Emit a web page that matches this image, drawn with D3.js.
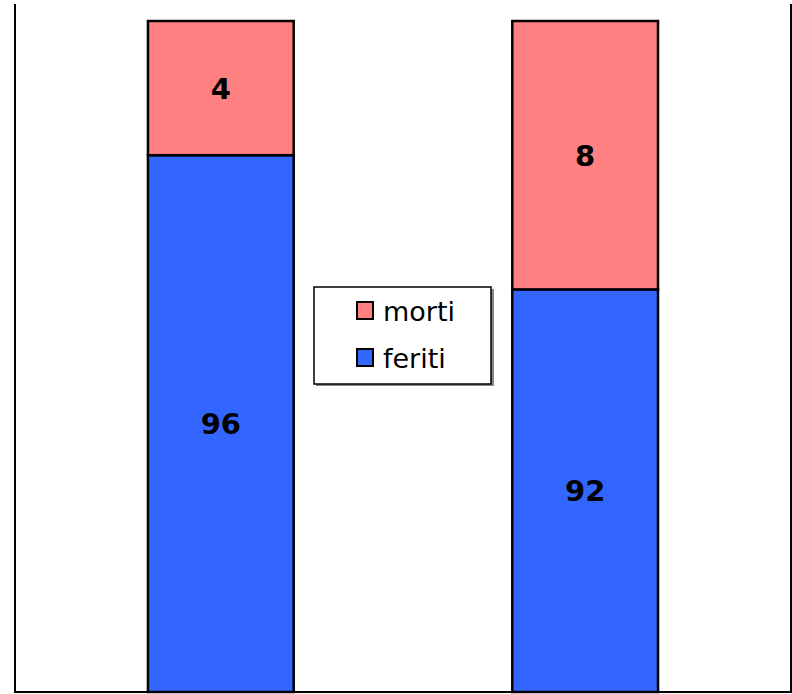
<!DOCTYPE html>
<html>
<head>
<meta charset="utf-8">
<script src="https://cdn.jsdelivr.net/npm/d3@7"></script>
<style>
  body { margin: 0; background: #fff; }
  svg { display: block; font-family: "DejaVu Sans", sans-serif; }
</style>
</head>
<body>
<div id="chart"></div>
<script>
// data
var categories = ["A", "B"];
var feriti = [96, 92];
var morti = [4, 8];
var seriesNames = ["morti", "feriti"];
var seriesColors = ["#ff8080", "#3366ff"];

var width = 792, height = 694;
var plot = {left: 15, right: 791, top: 21, bottom: 692};

var svg = d3.select("#chart")
  .append("svg")
  .attr("width", width)
  .attr("height", height);

// y axis starts at 80, so the lower part of the bars is cut off
var y = d3.scaleLinear().domain([80, 100]).range([plot.bottom, plot.top]);
var x = d3.scaleBand().domain(categories)
  .range([plot.left, plot.right]).paddingInner(0.6).paddingOuter(0.365);

var rows = categories.map(function (c, i) {
  return {cat: c, feriti: feriti[i], morti: morti[i]};
});
var stack = d3.stack().keys(["feriti", "morti"])(rows);

var layers = svg.append("g").selectAll("g")
  .data(stack)
  .join("g")
  .attr("fill", function (d) { return d.key == "morti" ? seriesColors[0] : seriesColors[1]; });

layers.selectAll("rect")
  .data(function (d) { return d; })
  .join("rect")
  .attr("x", function (d) { return x(d.data.cat); })
  .attr("width", x.bandwidth())
  .attr("y", function (d) { return y(d[1]); })
  .attr("height", function (d) { return y(Math.max(d[0], 80)) - y(d[1]); })
  .attr("stroke", "#000")
  .attr("stroke-width", 2.5);

// value labels in the middle of the visible part
layers.selectAll("text")
  .data(function (d) { return d.map(function (v) { v.key = d.key; return v; }); })
  .join("text")
  .attr("x", function (d) { return x(d.data.cat) + x.bandwidth() / 2; })
  .attr("y", function (d) { return (y(d[1]) + y(Math.max(d[0], 80))) / 2; })
  .attr("dy", "0.36em")
  .attr("text-anchor", "middle")
  .attr("fill", "#000")
  .attr("font-weight", "bold")
  .attr("font-size", 29)
  .text(function (d) { return d.data[d.key]; });

// frame (left, right, bottom)
svg.append("path")
  .attr("d", "M" + plot.left + ",4V" + plot.bottom + "H" + plot.right + "V4")
  .attr("fill", "none")
  .attr("stroke", "#000")
  .attr("stroke-width", 2);

// legend
var lg = svg.append("g").attr("transform", "translate(314,287)");
lg.append("rect").attr("x", 2).attr("y", 2).attr("width", 178).attr("height", 97).attr("fill", "#888");
lg.append("rect").attr("width", 177).attr("height", 97)
  .attr("fill", "#fff").attr("stroke", "#000").attr("stroke-width", 1.5);

var items = lg.selectAll("g.item")
  .data(seriesNames)
  .join("g")
  .attr("transform", function (d, i) { return "translate(43," + (15 + i * 47) + ")"; });

items.append("rect")
  .attr("width", 16).attr("height", 17)
  .attr("fill", function (d, i) { return seriesColors[i]; })
  .attr("stroke", "#000").attr("stroke-width", 2);

items.append("text")
  .attr("x", 26)
  .attr("y", 9)
  .attr("dy", "0.36em")
  .attr("font-size", 27)
  .attr("fill", "#000")
  .text(function (d) { return d; });
</script>
</body>
</html>
